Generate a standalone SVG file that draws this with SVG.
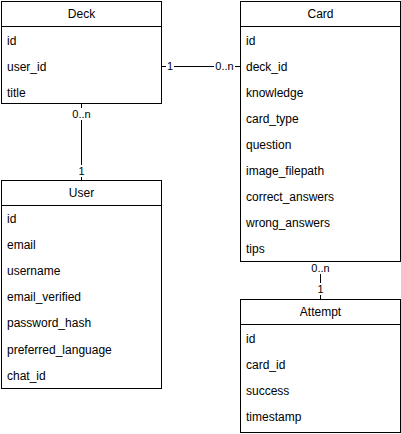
<svg xmlns="http://www.w3.org/2000/svg" width="401" height="434" viewBox="0 0 401 434">
  <style>
    .box { fill: #ffffff; stroke: #000000; stroke-width: 1; }
    .sep { stroke: #000000; stroke-width: 1; }
    .title { font-family: "Liberation Sans", Arial, sans-serif; font-size: 12px; fill: #000000; text-anchor: middle; dominant-baseline: central; }
    .field { font-family: "Liberation Sans", Arial, sans-serif; font-size: 12px; fill: #000000; dominant-baseline: central; }
    .edge { stroke: #000000; stroke-width: 1; fill: none; }
    .lbl { font-family: "Liberation Sans", Arial, sans-serif; font-size: 11px; fill: #000000; text-anchor: middle; dominant-baseline: central; }
    .lblbg { fill: #ffffff; }
  </style>
  <rect width="401" height="434" fill="#ffffff"/>

  <!-- relationships -->
  <g id="connectors">
    <path class="edge" d="M161.5,66.5 H240.5"/>
    <rect class="lblbg" x="166" y="60" width="8" height="12"/>
    <text class="lbl" x="170" y="66">1</text>
    <rect class="lblbg" x="214" y="60" width="21" height="12"/>
    <text class="lbl" x="224.5" y="66">0..n</text>

    <path class="edge" d="M81.5,103.5 V180.5"/>
    <rect class="lblbg" x="71" y="108" width="21" height="12"/>
    <text class="lbl" x="81.5" y="114">0..n</text>
    <rect class="lblbg" x="77" y="165" width="9" height="12"/>
    <text class="lbl" x="81.5" y="171">1</text>

    <path class="edge" d="M320.5,261.5 V299.5"/>
    <rect class="lblbg" x="310" y="262" width="21" height="12"/>
    <text class="lbl" x="320.5" y="268">0..n</text>
    <rect class="lblbg" x="316" y="283" width="9" height="12"/>
    <text class="lbl" x="320.5" y="289">1</text>
  </g>

  <g id="deck">
    <rect class="box" x="1.5" y="1.5" width="160" height="102"/>
    <line class="sep" x1="1.5" y1="26.5" x2="161.5" y2="26.5"/>
    <text class="title" x="81.5" y="14">Deck</text>
    <text class="field" x="7" y="40.5">id</text>
    <text class="field" x="7" y="66.5">user_id</text>
    <text class="field" x="7" y="92.5">title</text>
  </g>

  <g id="card">
    <rect class="box" x="240.5" y="1.5" width="160" height="260"/>
    <line class="sep" x1="240.5" y1="26.5" x2="400.5" y2="26.5"/>
    <text class="title" x="320.5" y="14">Card</text>
    <text class="field" x="246" y="40.5">id</text>
    <text class="field" x="246" y="66.5">deck_id</text>
    <text class="field" x="246" y="92.5">knowledge</text>
    <text class="field" x="246" y="118.5">card_type</text>
    <text class="field" x="246" y="144.5">question</text>
    <text class="field" x="246" y="170.5">image_filepath</text>
    <text class="field" x="246" y="196.5">correct_answers</text>
    <text class="field" x="246" y="222.5">wrong_answers</text>
    <text class="field" x="246" y="248.5">tips</text>
  </g>

  <g id="user">
    <rect class="box" x="1.5" y="180.5" width="160" height="208"/>
    <line class="sep" x1="1.5" y1="205.5" x2="161.5" y2="205.5"/>
    <text class="title" x="81.5" y="193">User</text>
    <text class="field" x="7" y="218.5">id</text>
    <text class="field" x="7" y="244.5">email</text>
    <text class="field" x="7" y="271">username</text>
    <text class="field" x="7" y="297">email_verified</text>
    <text class="field" x="7" y="323">password_hash</text>
    <text class="field" x="7" y="349.5">preferred_language</text>
    <text class="field" x="7" y="375.5">chat_id</text>
  </g>

  <g id="attempt">
    <rect class="box" x="240.5" y="299.5" width="160" height="133"/>
    <line class="sep" x1="240.5" y1="324.5" x2="400.5" y2="324.5"/>
    <text class="title" x="320.5" y="312">Attempt</text>
    <text class="field" x="246" y="338.5">id</text>
    <text class="field" x="246" y="364.5">card_id</text>
    <text class="field" x="246" y="390.5">success</text>
    <text class="field" x="246" y="416.5">timestamp</text>
  </g>
</svg>
